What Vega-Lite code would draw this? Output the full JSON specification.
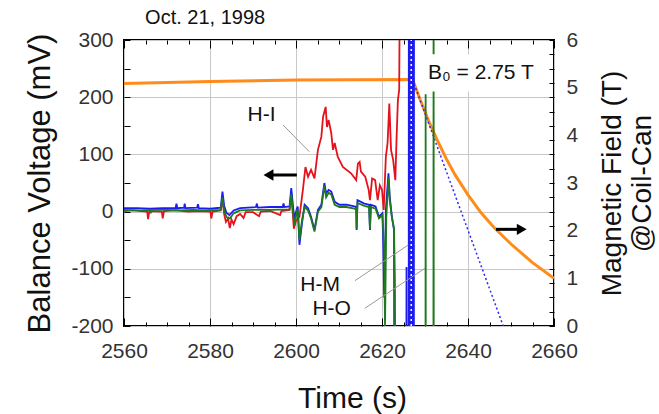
{
  "$schema": "https://vega.github.io/schema/vega-lite/v6.json",
  "width": 430,
  "height": 286,
  "autosize": {"type": "none"},
  "padding": {"left": 124, "top": 40, "right": 105, "bottom": 88},
  "background": "#ffffff",
  "config": {
    "font": "Liberation Sans",
    "view": {"stroke": "#000000", "strokeWidth": 2},
    "axis": {"labelFont": "Liberation Sans", "titleFont": "Liberation Sans", "labelOverlap": false, "labelFlush": false, "domain": false, "tickColor": "#000000", "labelColor": "#333333", "titleColor": "#111111", "titleFontWeight": "normal", "labelFontSize": 21, "titleFontSize": 30}
  },
  "datasets": {
    "field": [
      {"t": 2560, "b": 5.09}, {"t": 2580, "b": 5.13}, {"t": 2600, "b": 5.16}, {"t": 2627.1, "b": 5.17},
      {"t": 2629, "b": 4.72}, {"t": 2631, "b": 4.27}, {"t": 2633, "b": 3.87}, {"t": 2635, "b": 3.5},
      {"t": 2637, "b": 3.17}, {"t": 2640, "b": 2.75}, {"t": 2643, "b": 2.38}, {"t": 2646, "b": 2.07},
      {"t": 2650, "b": 1.72}, {"t": 2655, "b": 1.33}, {"t": 2660, "b": 1.0}
    ],
    "extrap": [{"t": 2627.1, "b": 5.17}, {"t": 2648.2, "b": 0}],
    "volt": [
      {"s": "H-I", "t": 2560, "v": 1}, {"s": "H-I", "t": 2562, "v": 2}, {"s": "H-I", "t": 2565.4, "v": 0}, {"s": "H-I", "t": 2565.6, "v": -13},
      {"s": "H-I", "t": 2565.9, "v": 1}, {"s": "H-I", "t": 2568.8, "v": 0}, {"s": "H-I", "t": 2569.0, "v": -12}, {"s": "H-I", "t": 2569.3, "v": 1},
      {"s": "H-I", "t": 2572, "v": 2}, {"s": "H-I", "t": 2575, "v": 0}, {"s": "H-I", "t": 2577, "v": 1}, {"s": "H-I", "t": 2580.1, "v": 0},
      {"s": "H-I", "t": 2580.3, "v": -12}, {"s": "H-I", "t": 2580.6, "v": 0}, {"s": "H-I", "t": 2582.5, "v": 2}, {"s": "H-I", "t": 2582.9, "v": 22},
      {"s": "H-I", "t": 2583.3, "v": -5}, {"s": "H-I", "t": 2583.7, "v": -18}, {"s": "H-I", "t": 2584.2, "v": -12}, {"s": "H-I", "t": 2584.6, "v": -29},
      {"s": "H-I", "t": 2585.0, "v": -14}, {"s": "H-I", "t": 2585.5, "v": -22}, {"s": "H-I", "t": 2586.2, "v": -8}, {"s": "H-I", "t": 2587, "v": -4},
      {"s": "H-I", "t": 2587.8, "v": -11}, {"s": "H-I", "t": 2588.3, "v": -1}, {"s": "H-I", "t": 2590, "v": -1}, {"s": "H-I", "t": 2591.4, "v": -8},
      {"s": "H-I", "t": 2591.8, "v": 0}, {"s": "H-I", "t": 2594, "v": 1}, {"s": "H-I", "t": 2596.3, "v": -6}, {"s": "H-I", "t": 2596.6, "v": 1},
      {"s": "H-I", "t": 2598.5, "v": 3}, {"s": "H-I", "t": 2598.9, "v": 30}, {"s": "H-I", "t": 2599.3, "v": -8}, {"s": "H-I", "t": 2599.5, "v": -30},
      {"s": "H-I", "t": 2600.0, "v": -16}, {"s": "H-I", "t": 2600.8, "v": -9}, {"s": "H-I", "t": 2601.6, "v": 38}, {"s": "H-I", "t": 2602.2, "v": 78},
      {"s": "H-I", "t": 2602.8, "v": 61}, {"s": "H-I", "t": 2603.5, "v": 73}, {"s": "H-I", "t": 2604.3, "v": 58}, {"s": "H-I", "t": 2605.1, "v": 108},
      {"s": "H-I", "t": 2605.9, "v": 131}, {"s": "H-I", "t": 2606.3, "v": 166}, {"s": "H-I", "t": 2606.9, "v": 183}, {"s": "H-I", "t": 2607.2, "v": 148},
      {"s": "H-I", "t": 2607.6, "v": 160}, {"s": "H-I", "t": 2608.2, "v": 137}, {"s": "H-I", "t": 2608.6, "v": 108}, {"s": "H-I", "t": 2609.0, "v": 120},
      {"s": "H-I", "t": 2609.7, "v": 96}, {"s": "H-I", "t": 2610.9, "v": 78}, {"s": "H-I", "t": 2612.8, "v": 67}, {"s": "H-I", "t": 2614.0, "v": 55},
      {"s": "H-I", "t": 2614.4, "v": 84}, {"s": "H-I", "t": 2614.8, "v": 87}, {"s": "H-I", "t": 2615.1, "v": 70}, {"s": "H-I", "t": 2616.1, "v": 61},
      {"s": "H-I", "t": 2616.9, "v": 38}, {"s": "H-I", "t": 2617.2, "v": 20}, {"s": "H-I", "t": 2617.7, "v": 58}, {"s": "H-I", "t": 2618.4, "v": 55},
      {"s": "H-I", "t": 2619.0, "v": 20}, {"s": "H-I", "t": 2619.5, "v": 46}, {"s": "H-I", "t": 2620.0, "v": 38}, {"s": "H-I", "t": 2620.4, "v": 3},
      {"s": "H-I", "t": 2620.9, "v": 96}, {"s": "H-I", "t": 2621.3, "v": 120}, {"s": "H-I", "t": 2621.7, "v": 189}, {"s": "H-I", "t": 2622.1, "v": 108},
      {"s": "H-I", "t": 2622.6, "v": 90}, {"s": "H-I", "t": 2623.1, "v": 55}, {"s": "H-I", "t": 2623.4, "v": 131}, {"s": "H-I", "t": 2623.7, "v": 195},
      {"s": "H-I", "t": 2624.0, "v": 213}, {"s": "H-I", "t": 2624.3, "v": 600},

      {"s": "H-M", "t": 2560, "v": 6}, {"s": "H-M", "t": 2563, "v": 6}, {"s": "H-M", "t": 2566, "v": 5}, {"s": "H-M", "t": 2569, "v": 6},
      {"s": "H-M", "t": 2572.0, "v": 6}, {"s": "H-M", "t": 2572.2, "v": 14}, {"s": "H-M", "t": 2572.4, "v": 6}, {"s": "H-M", "t": 2574.0, "v": 7},
      {"s": "H-M", "t": 2574.1, "v": 14}, {"s": "H-M", "t": 2574.3, "v": 6}, {"s": "H-M", "t": 2577.0, "v": 7}, {"s": "H-M", "t": 2577.2, "v": 13},
      {"s": "H-M", "t": 2577.4, "v": 6}, {"s": "H-M", "t": 2580, "v": 5}, {"s": "H-M", "t": 2582.5, "v": 7}, {"s": "H-M", "t": 2582.9, "v": 35},
      {"s": "H-M", "t": 2583.3, "v": 10}, {"s": "H-M", "t": 2583.8, "v": -2}, {"s": "H-M", "t": 2584.5, "v": -6}, {"s": "H-M", "t": 2585.5, "v": 2},
      {"s": "H-M", "t": 2587, "v": 6}, {"s": "H-M", "t": 2590.7, "v": 8}, {"s": "H-M", "t": 2590.9, "v": 14}, {"s": "H-M", "t": 2591.1, "v": 7},
      {"s": "H-M", "t": 2594, "v": 8}, {"s": "H-M", "t": 2596.9, "v": 8}, {"s": "H-M", "t": 2597.1, "v": 14}, {"s": "H-M", "t": 2597.3, "v": 8},
      {"s": "H-M", "t": 2598.5, "v": 9}, {"s": "H-M", "t": 2598.9, "v": 41}, {"s": "H-M", "t": 2599.3, "v": 10}, {"s": "H-M", "t": 2599.6, "v": -12},
      {"s": "H-M", "t": 2600.2, "v": 5}, {"s": "H-M", "t": 2600.4, "v": 9}, {"s": "H-M", "t": 2600.8, "v": -58}, {"s": "H-M", "t": 2601.4, "v": -20},
      {"s": "H-M", "t": 2602.0, "v": 12}, {"s": "H-M", "t": 2602.8, "v": 6}, {"s": "H-M", "t": 2603.5, "v": -9}, {"s": "H-M", "t": 2604.3, "v": -32},
      {"s": "H-M", "t": 2605.1, "v": 3}, {"s": "H-M", "t": 2605.9, "v": 12}, {"s": "H-M", "t": 2606.6, "v": 50}, {"s": "H-M", "t": 2607.0, "v": 32},
      {"s": "H-M", "t": 2607.6, "v": 38}, {"s": "H-M", "t": 2608.2, "v": 35}, {"s": "H-M", "t": 2609.0, "v": 17}, {"s": "H-M", "t": 2610.1, "v": 12},
      {"s": "H-M", "t": 2611.7, "v": 12}, {"s": "H-M", "t": 2613.6, "v": 9}, {"s": "H-M", "t": 2614.0, "v": 8}, {"s": "H-M", "t": 2614.1, "v": -32},
      {"s": "H-M", "t": 2614.3, "v": 20}, {"s": "H-M", "t": 2615.9, "v": 14}, {"s": "H-M", "t": 2617.0, "v": 12}, {"s": "H-M", "t": 2617.2, "v": -32},
      {"s": "H-M", "t": 2617.4, "v": 12}, {"s": "H-M", "t": 2618.5, "v": 9}, {"s": "H-M", "t": 2619.3, "v": -9}, {"s": "H-M", "t": 2620.1, "v": -3},
      {"s": "H-M", "t": 2620.3, "v": -60}, {"s": "H-M", "t": 2620.5, "v": -150}, {"s": "H-M", "t": 2620.7, "v": -100}, {"s": "H-M", "t": 2620.9, "v": 3},
      {"s": "H-M", "t": 2621.5, "v": 67}, {"s": "H-M", "t": 2621.8, "v": 26}, {"s": "H-M", "t": 2622.3, "v": -9}, {"s": "H-M", "t": 2622.8, "v": -32},
      {"s": "H-M", "t": 2622.9, "v": -600}, {"s": "H-M", "t": 2625.6, "v": -600}, {"s": "H-M", "t": 2625.7, "v": -97}, {"s": "H-M", "t": 2625.8, "v": -600},
      {"s": "H-M", "t": 2626.2, "v": -600}, {"s": "H-M", "t": 2626.25, "v": 600}, {"s": "H-M", "t": 2626.5, "v": 600}, {"s": "H-M", "t": 2626.55, "v": -600},
      {"s": "H-M", "t": 2626.8, "v": -600}, {"s": "H-M", "t": 2626.85, "v": 600}, {"s": "H-M", "t": 2627.1, "v": 600}, {"s": "H-M", "t": 2627.15, "v": -600},
      {"s": "H-M", "t": 2627.4, "v": -600}, {"s": "H-M", "t": 2627.45, "v": 600},

      {"s": "H-O", "t": 2560, "v": 3}, {"s": "H-O", "t": 2564, "v": 2}, {"s": "H-O", "t": 2566.0, "v": 3}, {"s": "H-O", "t": 2566.2, "v": -3},
      {"s": "H-O", "t": 2566.4, "v": 3}, {"s": "H-O", "t": 2570, "v": 3}, {"s": "H-O", "t": 2573, "v": 2}, {"s": "H-O", "t": 2576, "v": 3},
      {"s": "H-O", "t": 2579, "v": 2}, {"s": "H-O", "t": 2582.5, "v": 3}, {"s": "H-O", "t": 2582.9, "v": 25}, {"s": "H-O", "t": 2583.3, "v": 0},
      {"s": "H-O", "t": 2583.9, "v": -10}, {"s": "H-O", "t": 2584.6, "v": -12}, {"s": "H-O", "t": 2585.5, "v": -3}, {"s": "H-O", "t": 2587, "v": 2},
      {"s": "H-O", "t": 2590, "v": 3}, {"s": "H-O", "t": 2594, "v": 3}, {"s": "H-O", "t": 2598.5, "v": 4}, {"s": "H-O", "t": 2598.9, "v": 30},
      {"s": "H-O", "t": 2599.3, "v": 0}, {"s": "H-O", "t": 2599.6, "v": -25}, {"s": "H-O", "t": 2600.2, "v": 0}, {"s": "H-O", "t": 2600.4, "v": 5},
      {"s": "H-O", "t": 2600.8, "v": -50}, {"s": "H-O", "t": 2601.4, "v": -15}, {"s": "H-O", "t": 2602.0, "v": 8}, {"s": "H-O", "t": 2602.8, "v": 2},
      {"s": "H-O", "t": 2603.5, "v": -12}, {"s": "H-O", "t": 2604.3, "v": -35}, {"s": "H-O", "t": 2605.1, "v": 0}, {"s": "H-O", "t": 2605.9, "v": 8},
      {"s": "H-O", "t": 2606.6, "v": 45}, {"s": "H-O", "t": 2607.0, "v": 25}, {"s": "H-O", "t": 2607.6, "v": 33}, {"s": "H-O", "t": 2608.2, "v": 30},
      {"s": "H-O", "t": 2609.0, "v": 12}, {"s": "H-O", "t": 2610.1, "v": 8}, {"s": "H-O", "t": 2611.7, "v": 8}, {"s": "H-O", "t": 2613.6, "v": 5},
      {"s": "H-O", "t": 2614.0, "v": 4}, {"s": "H-O", "t": 2614.1, "v": -30}, {"s": "H-O", "t": 2614.3, "v": 15}, {"s": "H-O", "t": 2615.9, "v": 10},
      {"s": "H-O", "t": 2617.0, "v": 8}, {"s": "H-O", "t": 2617.2, "v": -30}, {"s": "H-O", "t": 2617.4, "v": 8}, {"s": "H-O", "t": 2618.5, "v": 5},
      {"s": "H-O", "t": 2619.3, "v": -12}, {"s": "H-O", "t": 2620.1, "v": -6}, {"s": "H-O", "t": 2620.5, "v": -60}, {"s": "H-O", "t": 2620.7, "v": -200},
      {"s": "H-O", "t": 2620.8, "v": -140}, {"s": "H-O", "t": 2621.0, "v": -10}, {"s": "H-O", "t": 2621.5, "v": 60}, {"s": "H-O", "t": 2621.8, "v": 20},
      {"s": "H-O", "t": 2622.3, "v": -10}, {"s": "H-O", "t": 2622.8, "v": -30}, {"s": "H-O", "t": 2623.0, "v": -120}, {"s": "H-O", "t": 2623.3, "v": -600},
      {"s": "H-O", "t": 2630.1, "v": -600}, {"s": "H-O", "t": 2630.15, "v": 205}, {"s": "H-O", "t": 2630.2, "v": -600}, {"s": "H-O", "t": 2631.95, "v": -600},
      {"s": "H-O", "t": 2632.0, "v": 600}, {"s": "H-O", "t": 2632.05, "v": -600}
    ],
    "leaders": [
      {"t": 2597.0, "v": 151.4, "t2": 2603.1, "v2": 104.7},
      {"t": 2613.7, "v": -120.8, "t2": 2626.1, "v2": -58.4},
      {"t": 2616.0, "v": -169.1, "t2": 2630.0, "v2": -99.1}
    ],
    "labels": [
      {"t": 2592.0, "v": 168.9, "label": "H-I"},
      {"t": 2605.6, "v": -128.3, "label": "H-M"},
      {"t": 2608.3, "v": -170.8, "label": "H-O"},
      {"t": 2643.0, "v": 241.8, "label": "B₀ = 2.75 T"}
    ],
    "labelbox": [{"t": 2628.9, "t2": 2658.5, "v": 210, "v2": 275}],
    "arrows": [
      {"t": 2594.5, "t2": 2600.2, "v": 64, "h": 2593.6, "dir": "left"},
      {"t": 2646.5, "t2": 2651.5, "v": -31, "h": 2652.5, "dir": "right"}
    ],
    "band": [{"t": 2626.8, "v": -200, "v2": 300}],
    "notes": [
      {"t": 2564.9, "v": 338.5, "label": "Oct. 21, 1998"}
    ]
  },
  "layer": [
    {
      "encoding": {
        "x": {"field": "t", "type": "quantitative", "scale": {"domain": [2560, 2660], "nice": false, "zero": false},
          "axis": {"orient": "top", "values": [2560,2565,2570,2575,2580,2585,2590,2595,2600,2605,2610,2615,2620,2625,2630,2635,2640,2645,2650,2655,2660],
            "labels": false, "grid": false, "title": null,
            "tickSize": {"condition": {"test": "datum.value % 20 === 0", "value": -8}, "value": -4}}},
        "y": {"field": "b", "type": "quantitative", "scale": {"domain": [0, 6], "nice": false, "zero": false},
          "axis": {"orient": "right", "values": [0,0.3,0.6,0.9,1,1.2,1.5,1.8,2,2.1,2.4,2.7,3,3.3,3.6,3.9,4,4.2,4.5,4.8,5,5.1,5.4,5.7,6],
            "labelExpr": "indexof([0,1,2,3,4,5,6], datum.value) >= 0 ? '' + datum.value : ''",
            "tickSize": -5, "tickOpacity": {"condition": {"test": "indexof([1,2,4,5], datum.value) >= 0", "value": 0}, "value": 1},
            "grid": false, "labelPadding": 17, "labelBaseline": "middle",
            "title": ["Magnetic Field (T)", "@Coil-Can"], "titleFontSize": 28, "titleAngle": 270, "titleX": 58, "titleY": 143,
            "titleAlign": "center", "titleBaseline": "middle", "titleLineHeight": 30}}
      },
      "layer": [
        {"data": {"name": "field"}, "mark": {"type": "line", "color": "#ff8c1a", "strokeWidth": 3, "clip": true}},
        {"data": {"name": "extrap"}, "mark": {"type": "line", "color": "#2a2aff", "strokeWidth": 1.5, "strokeDash": [2, 2.5], "clip": true}}
      ]
    },
    {
      "encoding": {
        "x": {"field": "t", "type": "quantitative", "scale": {"domain": [2560, 2660], "nice": false, "zero": false},
          "axis": {"orient": "bottom", "values": [2560,2565,2570,2575,2580,2585,2590,2595,2600,2605,2610,2615,2620,2625,2630,2635,2640,2645,2650,2655,2660],
            "labelExpr": "datum.value % 20 === 0 ? '' + datum.value : ''",
            "tickSize": {"condition": {"test": "datum.value % 20 === 0", "value": -8}, "value": -4},
            "grid": true, "gridColor": "#c8c8c8", "gridWidth": 1,
            "gridOpacity": {"condition": {"test": "datum.value % 20 === 0", "value": 1}, "value": 0},
            "labelPadding": 22, "title": "Time (s)", "titleX": 228, "titleY": 72, "titleAlign": "center", "titleBaseline": "middle"}},
        "y": {"field": "v", "type": "quantitative", "scale": {"domain": [-200, 300], "nice": false, "zero": false},
          "axis": {"orient": "left", "values": [-200,-150,-100,-50,0,50,100,150,200,250,300],
            "labelExpr": "datum.value % 100 === 0 ? '' + datum.value : ''",
            "tickSize": -6, "grid": true, "gridColor": "#c8c8c8", "gridWidth": 1,
            "gridOpacity": {"condition": {"test": "datum.value % 100 === 0", "value": 1}, "value": 0},
            "labelPadding": 17, "labelBaseline": "middle",
            "title": "Balance Voltage (mV)", "titleFontSize": 31, "titleAngle": 270, "titleX": -84, "titleY": 143, "titleAlign": "center", "titleBaseline": "middle"}}
      },
      "layer": [
        {"data": {"name": "volt"}, "mark": {"type": "line", "strokeWidth": 1.8, "clip": true},
          "encoding": {"color": {"field": "s", "type": "nominal", "scale": {"domain": ["H-I", "H-M", "H-O"], "range": ["#e3121d", "#1c1cf0", "#1f7a1f"]}, "legend": null}}},
        {"data": {"name": "band"}, "mark": {"type": "rule", "color": "#ffffff", "strokeWidth": 1.5, "strokeDash": [2, 3]},
          "encoding": {"y2": {"field": "v2"}}},
        {"data": {"name": "labelbox"}, "mark": {"type": "rect", "color": "#ffffff", "opacity": 1},
          "encoding": {"x2": {"field": "t2"}, "y2": {"field": "v2"}}},
        {"data": {"name": "leaders"}, "mark": {"type": "rule", "color": "#9a9a9a", "strokeWidth": 1},
          "encoding": {"x2": {"field": "t2"}, "y2": {"field": "v2"}}},
        {"data": {"name": "labels"}, "mark": {"type": "text", "fontSize": 21, "color": "#111111", "align": "center", "baseline": "middle"},
          "encoding": {"text": {"field": "label"}}},
        {"data": {"name": "arrows"}, "mark": {"type": "rule", "color": "#000000", "strokeWidth": 3},
          "encoding": {"x2": {"field": "t2"}}},
        {"data": {"name": "arrows"}, "mark": {"type": "point", "filled": true, "color": "#000000", "size": 130, "opacity": 1},
          "encoding": {"x": {"field": "h", "type": "quantitative"},
            "shape": {"field": "dir", "type": "nominal", "scale": {"domain": ["left", "right"], "range": ["triangle-left", "triangle-right"]}, "legend": null}}},
        {"data": {"name": "notes"}, "mark": {"type": "text", "fontSize": 20, "color": "#111111", "align": "left", "baseline": "middle"},
          "encoding": {"text": {"field": "label"}}}
      ]
    }
  ],
  "resolve": {"scale": {"y": "independent"}}
}
